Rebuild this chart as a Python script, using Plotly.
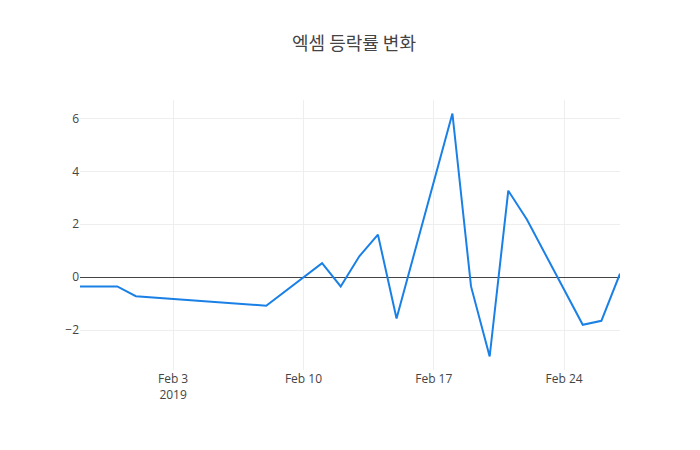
import plotly.graph_objs as go

# 일자별 등락률 (%)
dates = ['2019-01-29', '2019-01-31', '2019-02-01', '2019-02-08', '2019-02-11',
         '2019-02-12', '2019-02-13', '2019-02-14', '2019-02-15', '2019-02-18',
         '2019-02-19', '2019-02-20', '2019-02-21', '2019-02-22', '2019-02-25',
         '2019-02-26', '2019-02-27']
rates = [-0.35, -0.35, -0.72, -1.08, 0.53,
         -0.35, 0.79, 1.61, -1.56, 6.19,
         -0.35, -3.0, 3.27, 2.18, -1.80,
         -1.65, 0.13]

fig = go.Figure()

fig.add_trace(go.Scatter(
    x=dates,
    y=rates,
    mode='lines',
    line=dict(color='#1a80e6', width=2),
    name='등락률'
))

# 페이지 기본 여백(8px)을 감안한 크기
fig.update_layout(
    template='none',
    width=692,
    height=442,
    title=dict(text='엑셈 등락률 변화', x=0.5, xanchor='center', y=0.919, yanchor='middle',
               font=dict(size=18, family='Noto Sans CJK KR', color='#444')),
    font=dict(family='Open Sans', size=12, color='#444'),
    margin=dict(l=72, r=80, t=92, b=80),
    paper_bgcolor='white',
    plot_bgcolor='white',
    showlegend=False,
    xaxis=dict(showgrid=True, gridcolor='#eee', zeroline=False, showline=False,
               ticks='', dtick=7 * 24 * 3600 * 1000, tick0='2019-02-03'),
    yaxis=dict(showgrid=True, gridcolor='#eee', zeroline=True, zerolinecolor='#444',
               zerolinewidth=1, showline=False, ticks='', dtick=2)
)

fig.write_html("out.html")
